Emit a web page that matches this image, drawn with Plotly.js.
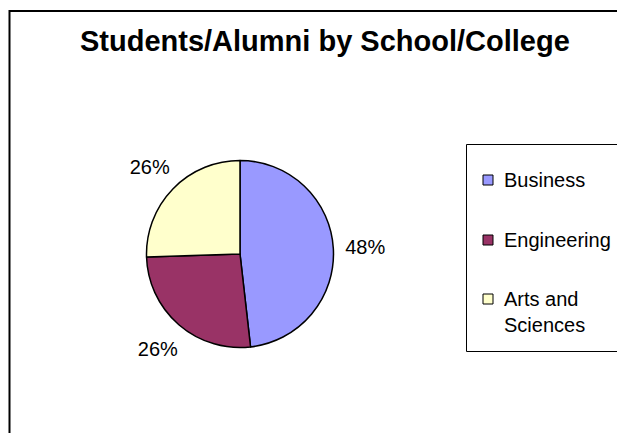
<!DOCTYPE html>
<html>
<head>
<meta charset="utf-8">
<script src="https://cdn.plot.ly/plotly-3.0.1.min.js"></script>
<style>html,body{margin:0;padding:0;background:#fff;}#chart{width:617px;height:433px;}</style>
</head>
<body>
<div id="chart"></div>
<script>
const chartTitle = 'Students/Alumni by School/College';
const categories = ['Business', 'Engineering', 'Arts and Sciences'];
const shares = [48.2, 26.3, 25.5];
const sliceColors = ['#9999FF', '#993366', '#FFFFCC'];

const W = 617, H = 433;
const px = x => x / W;
const py = y => 1 - y / H;

const font = 'Liberation Sans, Arial, sans-serif';

// pie placement (layout)
const cx = 240, cy = 254, r = 93.5;
// ring used to carry the percentage labels just outside the pie
const rLab = 154, holeLab = 0.63;

function wrap(label, maxLen) {
  const words = label.split(' ');
  const lines = [];
  let cur = '';
  words.forEach(w => {
    if (cur && (cur + ' ' + w).length > maxLen) { lines.push(cur); cur = w; }
    else cur = cur ? cur + ' ' + w : w;
  });
  if (cur) lines.push(cur);
  return lines;
}

const pieTrace = {
  type: 'pie',
  labels: categories,
  values: shares,
  marker: { colors: sliceColors, line: { color: '#000', width: 1.5 } },
  sort: false,
  direction: 'clockwise',
  rotation: 0,
  textinfo: 'none',
  showlegend: false,
  hoverinfo: 'label+percent',
  domain: { x: [px(cx - r), px(cx + r)], y: [py(cy + r), py(cy - r)] }
};

const labelTrace = {
  type: 'pie',
  labels: categories,
  values: shares,
  hole: holeLab,
  marker: { colors: ['rgba(0,0,0,0)', 'rgba(0,0,0,0)', 'rgba(0,0,0,0)'], line: { width: 0 } },
  sort: false,
  direction: 'clockwise',
  rotation: 0,
  texttemplate: '%{percent:.0%}',
  textposition: 'inside',
  insidetextorientation: 'horizontal',
  insidetextfont: { family: font, size: 20, color: '#000' },
  showlegend: false,
  hoverinfo: 'skip',
  domain: { x: [px(cx - rLab), px(cx + rLab)], y: [py(cy + rLab), py(cy - rLab)] }
};

const shapes = [
  // outer chart frame
  { type: 'rect', xref: 'paper', yref: 'paper', x0: px(9.5), x1: 1.2, y0: -0.2, y1: py(11),
    line: { color: '#000', width: 2 }, fillcolor: 'rgba(0,0,0,0)' },
  // legend box
  { type: 'rect', xref: 'paper', yref: 'paper', x0: px(466.5), x1: 1.2, y0: py(351.5), y1: py(144.5),
    line: { color: '#000', width: 1 }, fillcolor: 'rgba(0,0,0,0)' }
];
const annotations = [
  { text: '<b>' + chartTitle + '</b>', xref: 'paper', yref: 'paper', x: px(325), y: py(41),
    xanchor: 'center', yanchor: 'middle', showarrow: false, font: { family: font, size: 29, color: '#000' } }
];

const legendTops = [180, 240, 299];
categories.forEach((c, i) => {
  const yc = legendTops[i];
  shapes.push({ type: 'rect', xref: 'paper', yref: 'paper',
    x0: px(483), x1: px(493), y0: py(yc + 5), y1: py(yc - 5),
    fillcolor: sliceColors[i], line: { color: '#000', width: 1 } });
  const lines = wrap(c, 11);
  annotations.push({ text: lines.join('<br>'), xref: 'paper', yref: 'paper',
    x: px(502), y: py(yc - 13), xanchor: 'left', yanchor: 'top', align: 'left',
    showarrow: false, font: { family: font, size: 20, color: '#000' } });
});

const layout = {
  width: W, height: H,
  margin: { l: 0, r: 0, t: 0, b: 0 },
  paper_bgcolor: '#fff',
  plot_bgcolor: '#fff',
  showlegend: false,
  shapes: shapes,
  annotations: annotations
};

Plotly.newPlot('chart', [labelTrace, pieTrace], layout, { staticPlot: true });
</script>
</body>
</html>
